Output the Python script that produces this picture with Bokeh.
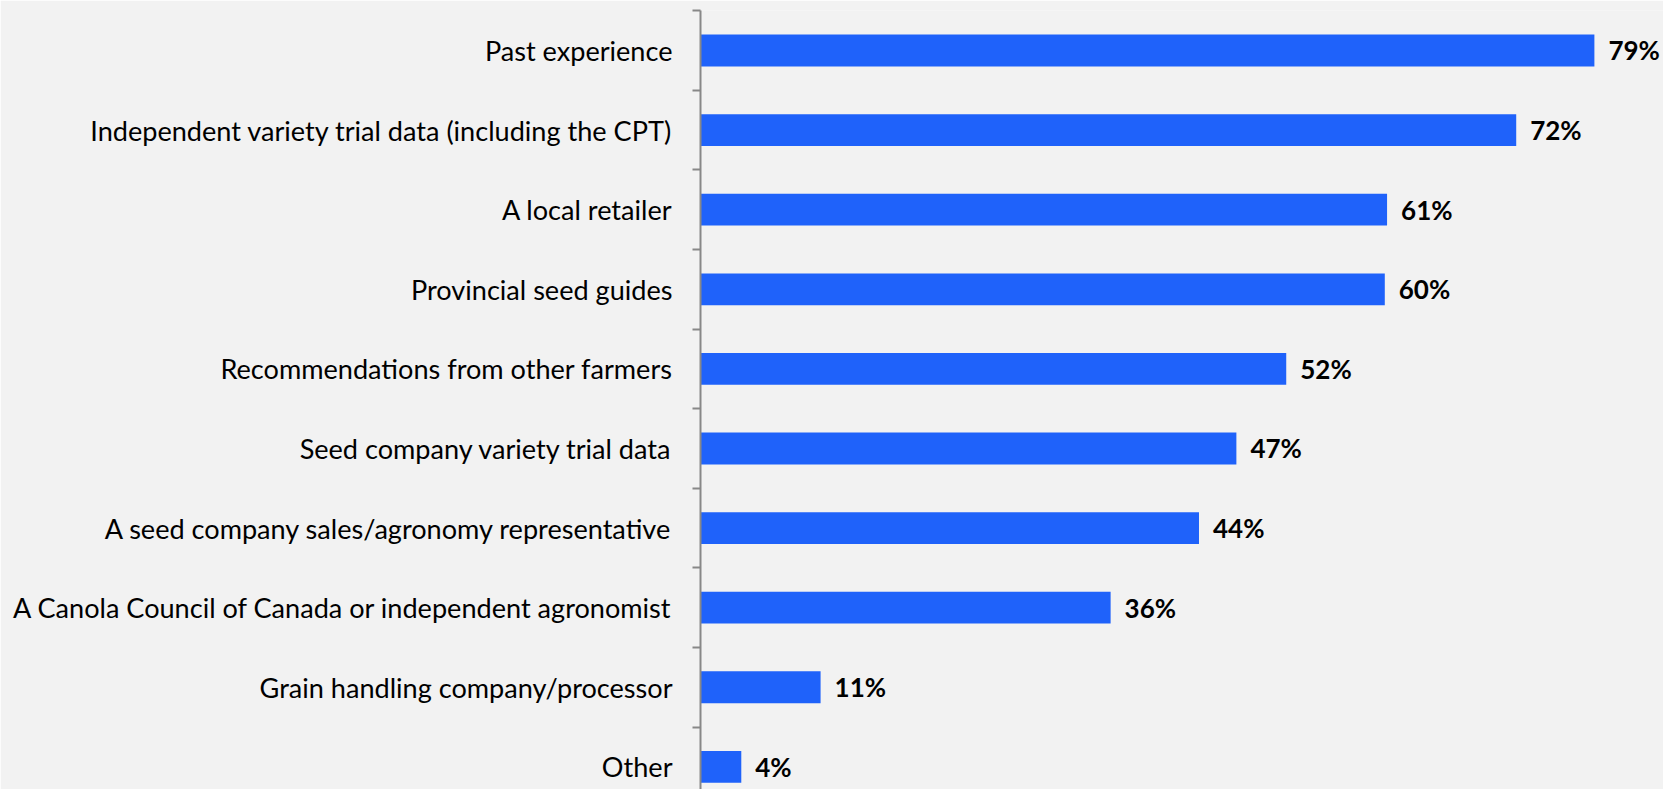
from bokeh.plotting import figure
from bokeh.models import ColumnDataSource, FixedTicker, Range1d, LabelSet
from bokeh.core.properties import value
from bokeh.embed import file_html
from bokeh.resources import INLINE

# Data (top to bottom as in the chart)
categories = [
    "Past experience",
    "Independent variety trial data (including the CPT)",
    "A local retailer",
    "Provincial seed guides",
    "Recommendations from other farmers",
    "Seed company variety trial data",
    "A seed company sales/agronomy representative",
    "A Canola Council of Canada or independent agronomist",
    "Grain handling company/processor",
    "Other",
]
values = [78.9, 72.0, 60.6, 60.4, 51.7, 47.3, 44.0, 36.2, 10.6, 3.6]
value_labels = ["79%", "72%", "61%", "60%", "52%", "47%", "44%", "36%", "11%", "4%"]

n = len(categories)
ypos = [n - 1 - i for i in range(n)]

source = ColumnDataSource(dict(y=ypos, value=values, label=value_labels, cat=categories))

BG = "#F2F2F2"
BAR = "#1F62FA"
AXIS = "#888888"

p = figure(
    width=1663, height=789,
    output_backend="svg", toolbar_location=None,
    x_range=Range1d(0, 85.0),
    y_range=Range1d(-0.284, 9.5025),
    x_axis_location=None,
    min_border_left=700, min_border_right=0, min_border_top=10, min_border_bottom=0,
    background_fill_color=BG, border_fill_color=BG,
)
p.outline_line_color = None
p.xgrid.visible = False
p.ygrid.visible = False

p.hbar(y="y", right="value", left=0, height=0.4, source=source,
       fill_color=BAR, line_color=None)

labels = LabelSet(x="value", y="y", text="label", source=source,
                  x_offset=14, text_align="left", text_baseline="middle",
                  text_font=value("Lato"), text_font_style="bold",
                  text_font_size=value("26px"), text_color="#000000")
p.add_layout(labels)

ax = p.yaxis[0]
ax.ticker = FixedTicker(ticks=ypos, minor_ticks=[y + 0.5 for y in range(-1, n)])
ax.major_label_overrides = {y: c for y, c in zip(ypos, categories)}
ax.major_tick_line_color = None
ax.major_tick_out = 0
ax.major_tick_in = 0
ax.minor_tick_out = 8
ax.minor_tick_in = 0
ax.minor_tick_line_color = AXIS
ax.minor_tick_line_width = 2
ax.axis_line_color = AXIS
ax.axis_line_width = 2
ax.major_label_standoff = 20
ax.major_label_text_font = "Lato"
ax.major_label_text_font_size = "27.1px"
ax.major_label_text_color = "#000000"

open("out.html", "w").write(file_html(p, INLINE))
